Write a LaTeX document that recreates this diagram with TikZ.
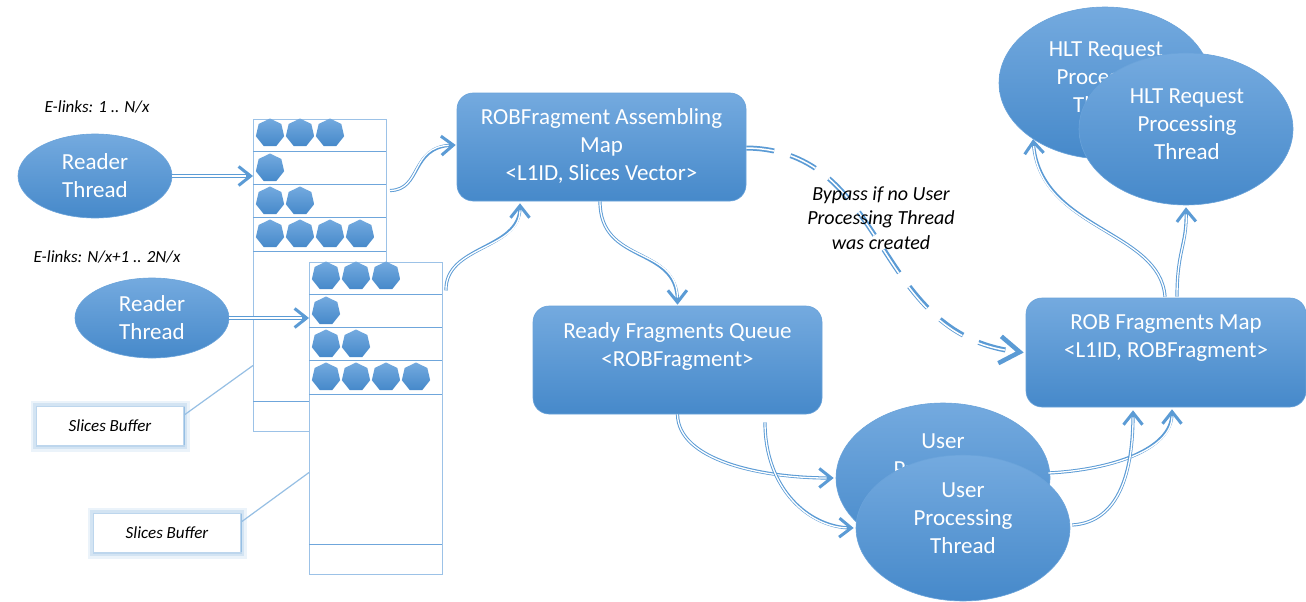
\documentclass[tikz,border=0pt]{standalone}
\usepackage{fontspec}
\setmainfont{Carlito}
\usetikzlibrary{arrows.meta,shapes.geometric}
\definecolor{fillTop}{HTML}{74AADF}
\definecolor{fillBot}{HTML}{4689CA}
\definecolor{edgeBlue}{HTML}{6AA3DA}
\definecolor{conBlue}{HTML}{5B9BD5}
\definecolor{bufLine}{HTML}{9CC2E7}
\definecolor{rowLine}{HTML}{6FA6DB}
\definecolor{glowBlue}{HTML}{9DC3E6}
\begin{document}
\begin{tikzpicture}[x=1pt,y=-1pt,
  shapefill/.style={top color=fillTop,bottom color=fillBot,draw=edgeBlue,line width=0.6pt},
  procbox/.style={shapefill,rectangle,rounded corners=16pt,minimum width=289pt,minimum height=108pt,inner sep=0pt},
  thread/.style={shapefill,ellipse,inner sep=0pt,minimum width=214pt,minimum height=150pt},
  lbl/.style={text=white,align=center,font=\fontsize{23}{28}\selectfont,inner sep=0pt},
  note/.style={text=black,align=center,font=\fontsize{17}{20}\selectfont\itshape,inner sep=0pt},
  slice/.style={regular polygon,regular polygon sides=7,minimum size=29pt,inner sep=0pt,top color=fillTop,bottom color=fillBot,draw=none},
  buffer/.style={rectangle,draw=bufLine,fill=white,line width=1pt,minimum width=133pt,minimum height=312pt,inner sep=0pt,anchor=north west},
  rowline/.style={draw=rowLine,line width=1pt},
  % double-lined connector: a blue stroke with a white core, ending in an open chevron
  conn/.style={draw=conBlue,line width=3.2pt,
    -{Straight Barb[length=12pt,width=19pt,line width=3pt]},
    postaction={draw=white,line width=1.3pt,-,shorten >=7pt}},
  bypass/.style={draw=conBlue,line width=5pt,dash pattern=on 28pt off 17pt,
    -{Straight Barb[length=20pt,width=27pt,line width=4.5pt]},
    postaction={draw=white,line width=1.5pt,-,dash pattern=on 28pt off 17pt,shorten >=10pt}},
  callout/.style={rectangle,fill=white,minimum width=146pt,minimum height=38pt,inner sep=0pt,
    font=\fontsize{17}{20}\selectfont\itshape,
    preaction={draw=glowBlue,line width=13pt,opacity=0.2},
    preaction={draw=glowBlue,line width=8pt,opacity=0.3},
    preaction={draw=glowBlue,line width=3pt,opacity=0.4}},
  leader/.style={draw=glowBlue!90!conBlue,line width=1.2pt}
]
\useasboundingbox[fill=white] (0,0) rectangle (1306,602);

% reader threads and their e-link ranges
\node[note] (el1) at (97,107) {E-links: 1 .. N/x};
\node[note] (el2) at (107,257) {E-links: N/x+1 .. 2N/x};
\node[shapefill,ellipse,minimum width=154pt,minimum height=84pt,inner sep=0pt] (r1) at (95,176) {};
\node[lbl] (r1t) at (95,176) {Reader\\Thread};
\node[shapefill,ellipse,minimum width=154pt,minimum height=80pt,inner sep=0pt] (r2) at (152,318) {};
\node[lbl] (r2t) at (152,318) {Reader\\Thread};

% slices buffers with their stored slices
\foreach \b/\bx/\by in {1/253/119, 2/309/262}{
  \begin{scope}[shift={(\bx,\by)}]
    \node[buffer] (buf\b) at (0,0) {};
    \foreach \ly in {32,65,98,132,282}
      \draw[rowline] (0,\ly) -- (133,\ly);
    \foreach \r/\ry/\n in {1/14/3, 2/49/1, 3/82/2, 4/115/4}
      \foreach \i in {1,...,\n}
        \node[slice] (s\b-\r-\i) at ({17+30*(\i-1)},\ry) {};
  \end{scope}
}

% callouts naming the buffers
\node[callout] (sb1) at (110,426) {Slices Buffer};
\draw[leader] ([xshift=1pt]sb1.north east) -- ([xshift=1pt]sb1.south east);
\draw[leader] ([xshift=1pt,yshift=11pt]sb1.east) -- ([yshift=-90pt]buf1.west);
\node[callout] (sb2) at (167,533) {Slices Buffer};
\draw[leader] ([xshift=1pt]sb2.north east) -- ([xshift=1pt]sb2.south east);
\draw[leader] ([xshift=1pt,yshift=11pt]sb2.east) -- ([yshift=-54pt]buf2.west);

% processing stages
\node[procbox] (asm) at (601.5,147) {};
\node[lbl] (asmt) at (601.5,146) {ROBFragment Assembling\\Map\\<L1ID, Slices Vector>};
\node[procbox] (rdy) at (677.5,360) {};
\node[lbl] (rdyt) at (677.5,346) {Ready Fragments Queue\\<ROBFragment>};
\node[procbox,minimum width=280pt,minimum height=109pt] (rob) at (1166,352.5) {};
\node[lbl] (robt) at (1166,338) {ROB Fragments Map\\<L1ID, ROBFragment>};

% user processing threads
\node[thread] (ub) at (943,478) {};
\node[lbl] (ubt) at (943,469) {User\\Processing\\Thread};
\node[thread,minimum height=146pt] (uf) at (963,528) {};
\node[lbl] (uft) at (963,518) {User\\Processing\\Thread};

% HLT request processing threads
\node[thread,minimum width=212pt,minimum height=152pt] (hb) at (1105,83) {};
\node[lbl] (hbt) at (1106,77) {HLT Request\\Processing\\Thread};
\node[thread,minimum height=152pt] (hf) at (1186,129) {};
\node[lbl] (hft) at (1187,124) {HLT Request\\Processing\\Thread};

% data flow
\draw[conn] (r1.east) -- (r1.east -| buf1.west);
\draw[conn] (r2.east) -- (r2.east -| buf2.west);
\draw[conn] ([xshift=3pt,yshift=85pt]buf1.east) .. controls (422,190) and (410,147) .. ([xshift=-1pt,yshift=2pt]asm.west);
\draw[conn] ([xshift=3pt,yshift=128pt]buf2.east) .. controls (445,245) and (520,250) .. ([xshift=-81.5pt,yshift=-2pt]asm.south);
\draw[conn] ([xshift=-1.5pt]asm.south) .. controls (600,265) and (677,245) .. ([yshift=1pt]rdy.north);
\draw[bypass] ([yshift=-1pt]asm.east) .. controls (890,150) and (870,335) .. ([xshift=-2pt]rob.west);
\draw[conn] (rdy.south) .. controls (678,460) and (760,478) .. ([xshift=-2pt]ub.west);
\draw[conn] ([xshift=87.5pt,yshift=-8pt]rdy.south) .. controls (765,490) and (810,527) .. ([xshift=-2pt]uf.west);
\draw[conn] ([xshift=-2pt,yshift=5pt]ub.east) .. controls (1110,470) and (1172,450) .. ([xshift=6pt,yshift=-2pt]rob.south);
\draw[conn] ([xshift=2pt,yshift=3pt]uf.east) .. controls (1120,522) and (1133,470) .. ([xshift=-33pt,yshift=-3pt]rob.south);
\draw[conn] ([xshift=-1pt,yshift=1pt]rob.north) .. controls (1160,230) and (1040,230) .. (hb.218);
\draw[conn] ([xshift=11pt,yshift=1pt]rob.north) .. controls (1177,250) and (1187,245) .. ([yshift=-2pt]hf.south);

% note on the bypass path
\node[text=black,align=center,font=\fontsize{20}{24.5}\selectfont\itshape,inner sep=0pt] (byp) at (881,218)
  {Bypass if no User\\Processing Thread\\was created};
\end{tikzpicture}
\end{document}
